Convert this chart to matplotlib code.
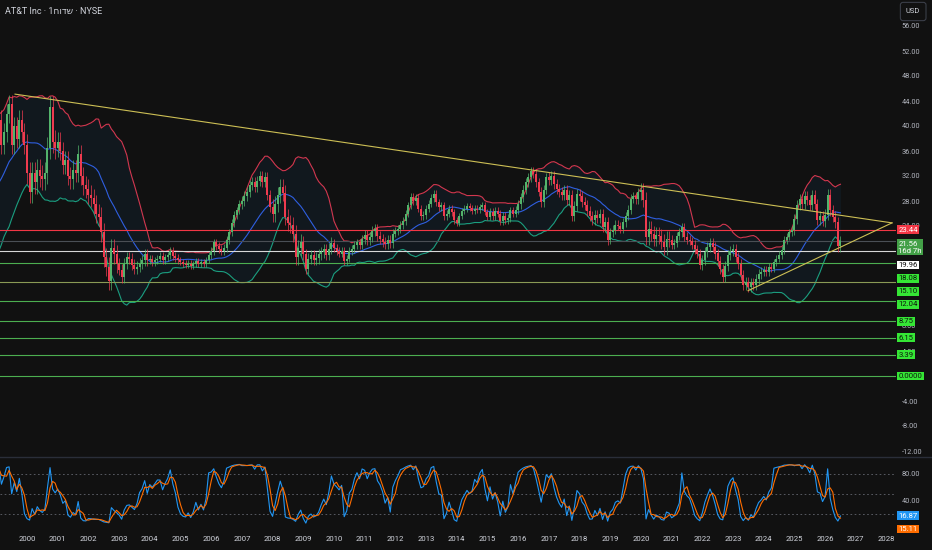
import numpy as np
import pandas as pd
import matplotlib
matplotlib.use("Agg")
import matplotlib.pyplot as plt
import matplotlib.transforms as mtransforms
from matplotlib.lines import Line2D

# monthly closes (1997-98 only feed the indicators)
c1997 = [19.0, 20.0, 20.5, 21.0, 22.0, 22.5, 23.0, 22.5, 24.0, 25.0, 26.0, 27.0]
c1998 = [28.0, 29.0, 30.0, 31.0, 30.0, 32.0, 33.0, 31.0, 34.0, 36.0, 38.0, 40.0]
c1999 = [38.0, 41.0, 37.0, 39.0, 42.0, 43.5, 37.0, 40.0, 38.0, 41.0, 39.0, 37.0]
c2000 = [32.5, 29.5, 32.5, 31.0, 33.0, 32.0, 31.5, 32.5, 36.5, 43.0, 37.5, 36.5]
c2001 = [37.5, 36.0, 33.8, 34.5, 32.0, 31.5, 33.0, 32.5, 35.5, 32.0, 30.5, 30.0]
c2002 = [29.0, 28.5, 27.5, 26.0, 25.5, 23.0, 19.0, 17.5, 15.2, 20.5, 19.5, 18.0]
c2003 = [17.0, 15.8, 18.0, 19.0, 18.8, 17.8, 17.2, 17.5, 18.0, 18.5, 19.5, 18.5]
c2004 = [18.8, 18.2, 18.5, 18.8, 19.2, 18.6, 19.0, 19.3, 20.0, 19.2, 18.9, 18.5]
c2005 = [18.2, 18.0, 17.8, 18.0, 17.6, 17.9, 18.4, 18.0, 18.3, 18.0, 18.6, 19.3]
c2006 = [20.0, 21.4, 20.8, 20.3, 20.0, 20.5, 21.8, 23.0, 24.5, 25.8, 26.5, 27.5]
c2007 = [28.0, 28.8, 29.5, 30.5, 31.0, 30.2, 31.2, 32.0, 31.0, 31.8, 29.0, 27.0]
c2008 = [26.0, 27.5, 29.0, 30.3, 29.3, 25.5, 24.5, 24.2, 22.8, 19.0, 20.5, 21.5]
c2009 = [19.5, 17.2, 18.8, 19.3, 18.6, 18.9, 19.5, 19.8, 20.3, 19.4, 20.4, 21.3]
c2010 = [20.5, 20.0, 19.6, 20.0, 18.4, 18.8, 20.0, 20.3, 21.0, 21.4, 21.0, 22.0]
c2011 = [22.5, 21.8, 22.3, 23.2, 23.6, 22.4, 22.0, 21.5, 21.2, 21.8, 21.3, 22.8]
c2012 = [23.2, 23.5, 24.2, 24.8, 26.0, 27.3, 28.6, 28.0, 28.5, 26.8, 25.6, 25.8]
c2013 = [26.8, 27.6, 28.5, 29.2, 27.8, 27.0, 27.3, 25.6, 26.0, 26.8, 26.2, 25.0]
c2014 = [24.5, 25.6, 26.4, 26.8, 27.2, 26.9, 26.4, 26.8, 26.6, 27.0, 27.3, 26.2]
c2015 = [25.5, 26.3, 25.6, 26.4, 26.0, 24.8, 25.6, 25.0, 25.3, 26.5, 26.0, 26.6]
c2016 = [27.5, 28.6, 29.8, 31.0, 31.8, 32.8, 32.4, 31.0, 29.5, 27.8, 29.8, 31.8]
c2017 = [31.4, 32.0, 30.8, 30.0, 29.4, 29.0, 29.8, 28.2, 29.0, 25.6, 27.2, 29.2]
c2018 = [28.8, 27.8, 27.4, 26.4, 25.6, 25.0, 25.8, 25.3, 26.0, 23.8, 24.6, 21.8]
c2019 = [23.0, 23.4, 24.2, 24.0, 23.6, 24.6, 25.6, 26.6, 28.4, 28.8, 28.3, 29.4]
c2020 = [29.7, 28.2, 22.2, 23.6, 22.8, 22.0, 22.6, 22.4, 21.5, 20.6, 22.0, 21.8]
c2021 = [21.0, 21.3, 22.4, 23.0, 23.8, 22.3, 21.8, 21.6, 21.0, 20.3, 19.6, 17.8]
c2022 = [18.6, 19.8, 20.6, 21.3, 20.6, 19.6, 18.4, 17.2, 15.9, 17.6, 19.4, 20.0]
c2023 = [20.3, 19.0, 18.0, 16.2, 14.6, 15.0, 14.3, 14.9, 14.6, 15.6, 16.3, 16.6]
c2024 = [17.0, 16.6, 17.5, 17.2, 18.2, 18.8, 19.4, 20.2, 21.8, 22.3, 23.0, 23.4]
c2025 = [25.2, 27.4, 28.4, 27.6, 28.8, 28.2, 27.4, 29.0, 27.6, 25.0, 25.6, 24.8]
c2026 = [25.8, 29.0, 26.5, 25.5, 24.6, 20.8, 21.56]

# typical wick length per year, 1997..2026
wick_size = [0.8, 1.0, 1.5, 1.8, 1.5, 1.5, 0.9, 0.6, 0.5, 0.6, 0.8, 1.3, 0.9, 0.6, 0.8,
             0.6, 0.6, 0.5, 0.6, 0.7, 0.8, 0.8, 0.7, 1.2, 0.7, 0.8, 0.8, 0.6, 0.8, 0.9]

level_values = [18.08, 15.10, 12.04, 8.75, 6.15, 3.39, 0.0]
level_labels = ["18.08", "15.10", "12.04", "8.75", "6.15", "3.39", "0.0000"]
red_level = 23.44
white_level = 19.96
countdown = "16d 7h"
stoch_last = [16.87, 15.11]

trend_down_t = [1999.61, 2028.18]
trend_down_p = [45.1, 24.5]
trend_up_t = [2023.49, 2028.18]
trend_up_p = [13.65, 24.5]

BG = "#111111"
UP = "#53b36b"
DOWN = "#ef3b4f"
TXT = "#b2b5be"
LIME = "#35e635"

plt.rcParams["font.family"] = ["Roboto", "DejaVu Sans"]

close = np.array(c1997 + c1998 + c1999 + c2000 + c2001 + c2002 + c2003 + c2004 + c2005 +
                 c2006 + c2007 + c2008 + c2009 + c2010 + c2011 + c2012 + c2013 + c2014 +
                 c2015 + c2016 + c2017 + c2018 + c2019 + c2020 + c2021 + c2022 + c2023 +
                 c2024 + c2025 + c2026)
n = len(close)
t = 1997 + np.arange(n) / 12.0
opn = np.r_[close[0], close[:-1]]
wk = np.array(wick_size)[np.arange(n) // 12]
high = np.maximum(opn, close) + wk
low = np.minimum(opn, close) - wk
cols = np.where(close >= opn, UP, DOWN)

s = pd.Series(close)
mid = s.rolling(20).mean()
sd = s.rolling(20).std(ddof=0)
bb_up = mid + 2 * sd
bb_lo = mid - 2 * sd

# stochastic 14 1 3
hh = pd.Series(high).rolling(14).max()
ll = pd.Series(low).rolling(14).min()
k = 100 * (s - ll) / (hh - ll)
d = k.rolling(3).mean()

W, H = 932, 550
fig = plt.figure(figsize=(W / 100, H / 100), dpi=100, facecolor=BG)
ax = fig.add_axes([0, 93 / H, 896 / W, 457 / H], facecolor=BG)
ax2 = fig.add_axes([0, 20 / H, 896 / W, 73 / H], facecolor=BG)

xl = (1999.12, 2028.31)
for a in (ax, ax2):
    a.set_xlim(*xl)
    for sp in a.spines.values():
        sp.set_visible(False)
    a.yaxis.tick_right()
    a.tick_params(axis="y", length=0, pad=4, labelsize=5.3, labelcolor=TXT)
ax.set_ylim(-12.96, 60.16)
ax2.set_ylim(-4.5, 105.5)

# bollinger
ax.fill_between(t, bb_up, bb_lo, color="#2196f3", alpha=0.06, lw=0)
ax.plot(t, bb_up, color="#d2374f", lw=0.8)
ax.plot(t, mid, color="#2f5fe0", lw=0.8)
ax.plot(t, bb_lo, color="#1b9e7f", lw=0.8)

# candles
ax.vlines(t, low, high, colors=cols, lw=0.5, zorder=3)
body = np.maximum(np.abs(close - opn), 0.12)
ax.bar(t, body, bottom=np.minimum(opn, close), width=0.065, color=cols, lw=0, zorder=4)

# levels
ax.axhline(red_level, color="#f23645", lw=0.8)
ax.axhline(close[-1], color="#4a4f55", lw=0.8)
ax.axhline(white_level, color="#d8d8d8", lw=0.8)
for v in level_values:
    c = "#8a9a55" if v == 15.10 else "#4caf50"
    ax.axhline(v, color=c, lw=0.8)

ax.plot(trend_down_t, trend_down_p, color="#cdbf55", lw=0.8, zorder=5)
ax.plot(trend_up_t, trend_up_p, color="#cdbf55", lw=0.8, zorder=5)

# price ticks; the ones fully hidden under the level boxes are left out
price_ticks = [v for v in range(-12, 57, 4) if v not in (0, 12, 16, 20)]
ax.set_yticks(price_ticks)
ax.set_yticklabels([f"{v:.2f}" for v in price_ticks])
ax.set_xticks([])

# stoch panel
for v in (80, 50, 20):
    ax2.axhline(v, color="#787b86", lw=0.6, ls=(0, (2, 3)), alpha=0.8)
ax2.plot(t, k, color="#2196f3", lw=0.8)
ax2.plot(t, d, color="#ff6d00", lw=0.8)
ax2.set_yticks([40, 80])
ax2.set_yticklabels(["40.00", "80.00"])
yrs = np.arange(2000, 2029)
ax2.set_xticks(yrs)
ax2.set_xticklabels([str(y) for y in yrs])
ax2.tick_params(axis="x", length=0, pad=4, labelsize=5.6, labelcolor="#d1d4dc")

fig.add_artist(Line2D([0, 1], [93 / H, 93 / H], color="#2a2e39", lw=1,
                      transform=fig.transFigure))


def side_labels(axis, items, fs=5.6):
    blend = mtransforms.blended_transform_factory(axis.transAxes, axis.transData)
    line_px = fs * fig.dpi / 72 * 1.2
    pad_px = 0.18 * fs * fig.dpi / 72
    prev_bottom = None
    for v, txt, bg, fg in sorted(items, key=lambda r: -r[0]):
        nl = txt.count("\n") + 1
        yv = axis.transData.transform((0, v))[1]
        top = yv + line_px / 2 + pad_px
        if prev_bottom is not None and top > prev_bottom - 1:
            top = prev_bottom - 1
        hgt = nl * line_px + 2 * pad_px
        prev_bottom = top - hgt
        yc = top - hgt / 2
        axis.annotate(txt, xy=(1, v), xycoords=blend, xytext=(2.5, yc - yv),
                      textcoords="offset pixels", ha="left", va="center",
                      fontsize=fs, color=fg, linespacing=1.2,
                      bbox=dict(boxstyle="square,pad=0.18", fc=bg, ec="none"),
                      annotation_clip=False, zorder=10)


items = [(red_level, f"{red_level:.2f}", "#f23645", "white"),
         (close[-1], f"{close[-1]:.2f}\n{countdown}", "#43a047", "white"),
         (white_level, f"{white_level:.2f}", "#ffffff", "#111111")]
for v, lab in zip(level_values, level_labels):
    items.append((v, lab, LIME, "#0d1a0d"))
side_labels(ax, items)
side_labels(ax2, [(stoch_last[0], f"{stoch_last[0]:.2f}", "#2196f3", "white"),
                  (stoch_last[1], f"{stoch_last[1]:.2f}", "#ff6d00", "white")])

fig.text(5 / W, 1 - 12 / H, "AT&T Inc · 1חודש · NYSE", color="#d1d4dc",
         fontsize=6.5, va="center", ha="left")
fig.text(906 / W, 1 - 11.5 / H, "USD", color="#d1d4dc", fontsize=5.4, va="center",
         ha="left", bbox=dict(boxstyle="round,pad=0.75,rounding_size=0.35",
                              fc=BG, ec="#3a3e48", lw=0.8))

fig.savefig("out.png", dpi=100, facecolor=BG)
